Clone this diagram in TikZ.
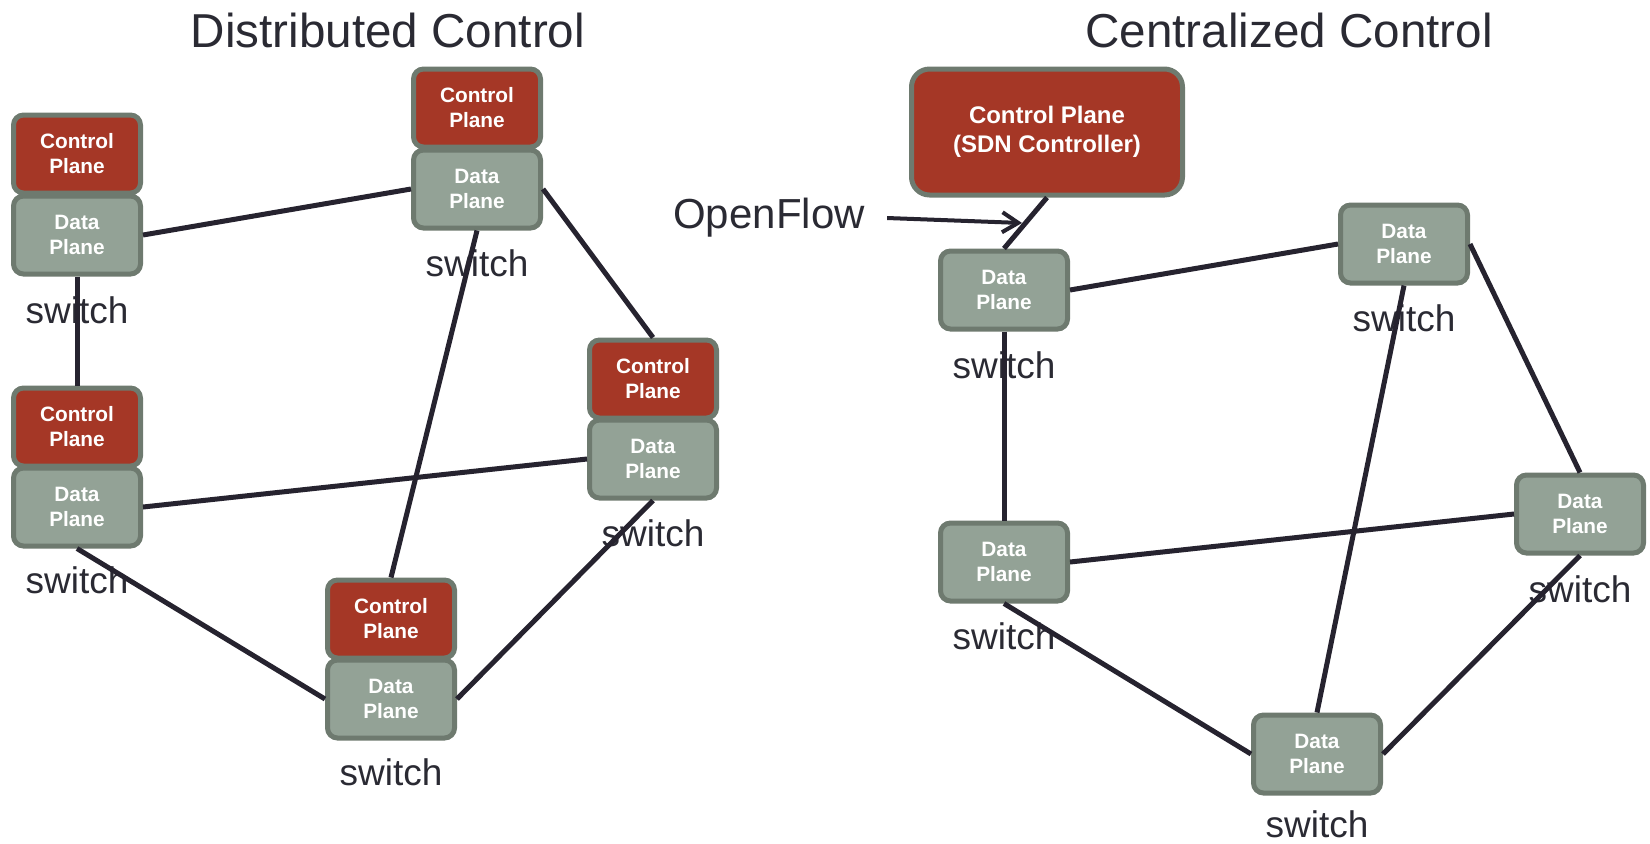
\documentclass[tikz,border=0pt]{standalone}
\usepackage{fontspec}
\setmainfont{Liberation Sans}
\usetikzlibrary{arrows.meta}
\definecolor{cpred}{HTML}{A53726}
\definecolor{dpgray}{HTML}{93A296}
\definecolor{boxedge}{HTML}{6E7A6F}
\definecolor{wire}{HTML}{26232F}
\definecolor{ink}{HTML}{2A2A33}

\begin{document}
\begin{tikzpicture}[x=0.5pt,y=-0.5pt,
  plane/.style={rectangle, rounded corners=5pt, draw=boxedge, line width=2.5pt,
    minimum width=63.5pt, minimum height=39pt, inner sep=0pt, text=white,
    align=center, font=\fontsize{10.4}{12.5}\selectfont\bfseries},
  cplane/.style={plane, fill=cpred},
  dplane/.style={plane, fill=dpgray},
  controller/.style={plane, fill=cpred, rounded corners=9pt,
    minimum width=135.5pt, minimum height=63pt,
    font=\fontsize{12}{14.5}\selectfont\bfseries},
  swlabel/.style={inner sep=0pt, text=ink, font=\fontsize{18.5}{22}\selectfont},
  heading/.style={inner sep=0pt, text=ink, font=\fontsize{23.8}{28}\selectfont},
  link/.style={draw=wire, line width=2.5pt},
]
\useasboundingbox (0,0) rectangle (1650,843);

% ---------- Distributed control ----------
\node[heading] (t1) at (388,30) {Distributed Control};

\node[cplane] (A-cp) at (77,154) {Control\\Plane};
\node[dplane] (A-dp) at (77,235) {Data\\Plane};
\node[swlabel] (A-l) at (77,310) {switch};

\node[cplane] (B-cp) at (477,108) {Control\\Plane};
\node[dplane] (B-dp) at (477,189) {Data\\Plane};
\node[swlabel] (B-l) at (477,263) {switch};

\node[cplane] (C-cp) at (77,427) {Control\\Plane};
\node[dplane] (C-dp) at (77,507) {Data\\Plane};
\node[swlabel] (C-l) at (77,580) {switch};

\node[cplane] (D-cp) at (653,379) {Control\\Plane};
\node[dplane] (D-dp) at (653,459) {Data\\Plane};
\node[swlabel] (D-l) at (653,533) {switch};

\node[cplane] (E-cp) at (391,619) {Control\\Plane};
\node[dplane] (E-dp) at (391,699) {Data\\Plane};
\node[swlabel] (E-l) at (391,772) {switch};

\draw[link] (A-dp.east) -- (B-dp.west);
\draw[link] (A-dp.south) -- (C-cp.north);
\draw[link] (B-dp.east) -- (D-cp.north);
\draw[link] (B-dp.south) -- (E-cp.north);
\draw[link] (C-dp.east) -- (D-dp.west);
\draw[link] (C-dp.south) -- (E-dp.west);
\draw[link] (D-dp.south) -- (E-dp.east);

% ---------- Centralized control ----------
\node[heading] (t2) at (1289,30) {Centralized Control};

\node[controller] (ctrl) at (1047,132) {Control Plane\\(SDN Controller)};

\node[dplane] (R1) at (1004,290) {Data\\Plane};
\node[swlabel] (R1-l) at (1004,365) {switch};
\node[dplane] (R2) at (1404,244) {Data\\Plane};
\node[swlabel] (R2-l) at (1404,318) {switch};
\node[dplane] (R3) at (1004,562) {Data\\Plane};
\node[swlabel] (R3-l) at (1004,636) {switch};
\node[dplane] (R4) at (1580,514) {Data\\Plane};
\node[swlabel] (R4-l) at (1580,589) {switch};
\node[dplane] (R5) at (1317,754) {Data\\Plane};
\node[swlabel] (R5-l) at (1317,824) {switch};

\draw[link] (ctrl.south) -- (R1.north);
\draw[link] (R1.east) -- (R2.west);
\draw[link] (R1.south) -- (R3.north);
\draw[link] (R2.east) -- (R4.north);
\draw[link] (R2.south) -- (R5.north);
\draw[link] (R3.east) -- (R4.west);
\draw[link] (R3.south) -- (R5.west);
\draw[link] (R4.south) -- (R5.east);

% OpenFlow pointer
\node[swlabel, font=\fontsize{21}{25}\selectfont, inner xsep=11pt] (of) at (769,218) {OpenFlow};
\coordinate (oftip) at (1022,223);
\draw[draw=wire, line width=2pt, -{Straight Barb[length=8pt, width=10pt]}] (of.east) -- (oftip);
\end{tikzpicture}
\end{document}
